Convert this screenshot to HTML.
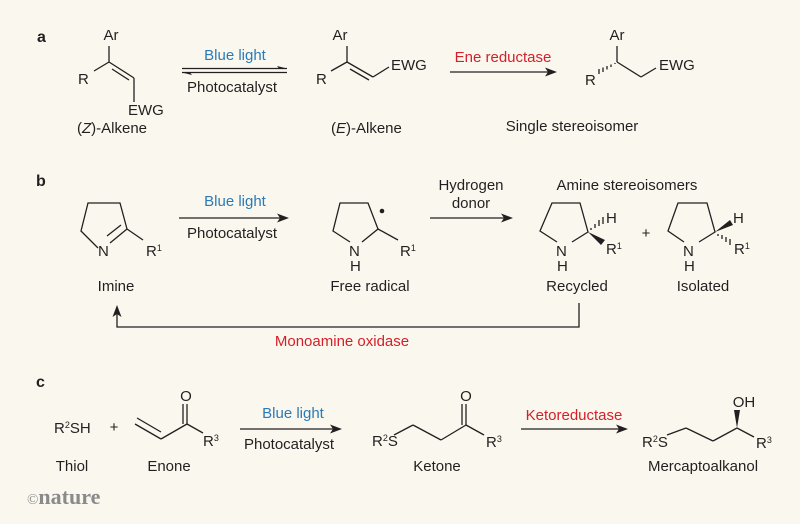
<!DOCTYPE html>
<html><head><meta charset="utf-8"><style>
html,body{margin:0;padding:0;background:#faf8ee}
svg{display:block}
text{font-family:"Liberation Sans",sans-serif;font-size:15px;fill:#231f20}
.b{fill:#2a7ab8}.r{fill:#d4202a}
.s{font-size:9px}
.p{font-weight:bold;font-size:16px;font-family:"Liberation Sans",sans-serif}
line,polyline,path.l{stroke:#231f20;stroke-width:1.3;fill:none}
</style></head><body>
<svg width="800" height="524" viewBox="0 0 800 524" xmlns="http://www.w3.org/2000/svg">
<rect width="800" height="524" fill="#faf8ee"/>
<!-- Panel a -->
<text x="37" y="42" class="p">a</text>
<text x="111" y="40" text-anchor="middle">Ar</text>
<line x1="109" y1="46" x2="109" y2="62"/>
<text x="78" y="84">R</text>
<line x1="109" y1="62" x2="94" y2="71"/>
<line x1="109" y1="62" x2="134" y2="78"/>
<line x1="112" y1="69" x2="129" y2="80"/>
<line x1="134" y1="78" x2="134" y2="102"/>
<text x="128" y="115">EWG</text>
<text x="77" y="133">(<tspan font-style="italic">Z</tspan>)-Alkene</text>
<line x1="182" y1="68.5" x2="287" y2="68.5"/>
<path d="M287 68.5 L277 66 L279 68.5Z" fill="#231f20"/>
<line x1="182" y1="72.5" x2="287" y2="72.5"/>
<path d="M182 72.5 L192 75 L190 72.5Z" fill="#231f20"/>
<text x="235" y="60" text-anchor="middle" class="b">Blue light</text>
<text x="232" y="92" text-anchor="middle">Photocatalyst</text>
<text x="340" y="40" text-anchor="middle">Ar</text>
<line x1="347" y1="46" x2="347" y2="62"/>
<text x="316" y="84">R</text>
<line x1="347" y1="62" x2="331" y2="71"/>
<line x1="347" y1="62" x2="373" y2="77"/>
<line x1="350" y1="69" x2="369" y2="80"/>
<line x1="373" y1="77" x2="389" y2="67"/>
<text x="391" y="70">EWG</text>
<text x="331" y="133">(<tspan font-style="italic">E</tspan>)-Alkene</text>
<line x1="450" y1="72" x2="555" y2="72"/>
<path d="M557 72 L545 67.5 L548 72 L545 76.5Z" fill="#231f20"/>
<text x="503" y="62" text-anchor="middle" class="r">Ene reductase</text>
<text x="617" y="40" text-anchor="middle">Ar</text>
<line x1="617" y1="46" x2="617" y2="62"/>
<path d="M615 63 v1 M611 64.5 v2.5 M607 66 v3.5 M603 67.5 v4.5 M599 69 v5" stroke="#231f20" stroke-width="1.3"/>
<text x="585" y="85">R</text>
<line x1="617" y1="62" x2="641" y2="77"/>
<line x1="641" y1="77" x2="656" y2="68"/>
<text x="659" y="70">EWG</text>
<text x="572" y="131" text-anchor="middle">Single stereoisomer</text>
<!-- Panel b -->
<text x="36" y="186" class="p">b</text>
<polyline points="98,248 81,231 88,203 120,203 127,229"/>
<line x1="127" y1="229" x2="110" y2="243"/>
<line x1="121" y1="225" x2="107" y2="236"/>
<line x1="127" y1="229" x2="143" y2="240"/>
<text x="98" y="256">N</text>
<text x="146" y="256">R<tspan class="s" dy="-5">1</tspan></text>
<text x="116" y="291" text-anchor="middle">Imine</text>
<line x1="179" y1="218" x2="286" y2="218"/>
<path d="M289 218 L277 213.5 L280 218 L277 222.5Z" fill="#231f20"/>
<text x="235" y="206" text-anchor="middle" class="b">Blue light</text>
<text x="232" y="238" text-anchor="middle">Photocatalyst</text>
<polyline points="350,242 333,231 340,203 368,203 378,229 362,242"/>
<line x1="378" y1="229" x2="398" y2="240"/>
<circle cx="382" cy="211" r="2.3" fill="#231f20"/>
<text x="349" y="256">N</text>
<text x="350" y="271">H</text>
<text x="400" y="256">R<tspan class="s" dy="-5">1</tspan></text>
<text x="370" y="291" text-anchor="middle">Free radical</text>
<line x1="430" y1="218" x2="510" y2="218"/>
<path d="M513 218 L501 213.5 L504 218 L501 222.5Z" fill="#231f20"/>
<text x="471" y="190" text-anchor="middle">Hydrogen</text>
<text x="471" y="208" text-anchor="middle">donor</text>
<text x="627" y="190" text-anchor="middle">Amine stereoisomers</text>
<polyline points="557,242 540,231 552,203 580,203 588,232 572,242"/>
<path d="M591 230 v-2 M595 228 v-4 M599 226 v-6 M603 224 v-7" stroke="#231f20" stroke-width="1.3"/>
<path d="M588 232 L605 240 L601 245Z" fill="#231f20"/>
<text x="606" y="223">H</text>
<text x="556" y="256">N</text>
<text x="557" y="271">H</text>
<text x="606" y="254">R<tspan class="s" dy="-5">1</tspan></text>
<text x="646" y="238" text-anchor="middle" font-size="16">+</text>
<polyline points="684,242 668,231 678,203 707,203 715,232 699,242"/>
<path d="M715 232 L730 220 L733 225Z" fill="#231f20"/>
<path d="M718 234 v2 M722 235 v4 M726 237 v5 M730 239 v6" stroke="#231f20" stroke-width="1.3"/>
<text x="733" y="223">H</text>
<text x="683" y="256">N</text>
<text x="684" y="271">H</text>
<text x="734" y="254">R<tspan class="s" dy="-5">1</tspan></text>
<text x="577" y="291" text-anchor="middle">Recycled</text>
<text x="703" y="291" text-anchor="middle">Isolated</text>
<polyline points="579,303 579,327 117,327 117,310"/>
<path d="M117 305 L112.5 317 L117 314 L121.5 317Z" fill="#231f20"/>
<text x="342" y="346" text-anchor="middle" class="r">Monoamine oxidase</text>
<!-- Panel c -->
<text x="36" y="387" class="p">c</text>
<text x="54" y="433">R<tspan class="s" dy="-5">2</tspan><tspan dy="5">SH</tspan></text>
<text x="114" y="432" text-anchor="middle" font-size="16">+</text>
<line x1="135" y1="424" x2="161" y2="439"/>
<line x1="137" y1="418" x2="161" y2="432"/>
<line x1="161" y1="439" x2="187" y2="424"/>
<line x1="187" y1="424" x2="187" y2="404"/>
<line x1="183" y1="424" x2="183" y2="404"/>
<text x="186" y="401" text-anchor="middle">O</text>
<line x1="187" y1="424" x2="203" y2="433"/>
<text x="203" y="446">R<tspan class="s" dy="-5">3</tspan></text>
<text x="72" y="471" text-anchor="middle">Thiol</text>
<text x="169" y="471" text-anchor="middle">Enone</text>
<line x1="240" y1="429" x2="339" y2="429"/>
<path d="M342 429 L330 424.5 L333 429 L330 433.5Z" fill="#231f20"/>
<text x="293" y="418" text-anchor="middle" class="b">Blue light</text>
<text x="289" y="449" text-anchor="middle">Photocatalyst</text>
<text x="372" y="446">R<tspan class="s" dy="-5">2</tspan><tspan dy="5">S</tspan></text>
<line x1="394" y1="435" x2="413" y2="425"/>
<line x1="413" y1="425" x2="441" y2="440"/>
<line x1="441" y1="440" x2="466" y2="425"/>
<line x1="466" y1="425" x2="466" y2="404"/>
<line x1="462" y1="425" x2="462" y2="404"/>
<text x="466" y="401" text-anchor="middle">O</text>
<line x1="466" y1="425" x2="484" y2="435"/>
<text x="486" y="447">R<tspan class="s" dy="-5">3</tspan></text>
<text x="437" y="471" text-anchor="middle">Ketone</text>
<line x1="521" y1="429" x2="625" y2="429"/>
<path d="M628 429 L616 424.5 L619 429 L616 433.5Z" fill="#231f20"/>
<text x="574" y="420" text-anchor="middle" class="r">Ketoreductase</text>
<text x="642" y="447">R<tspan class="s" dy="-5">2</tspan><tspan dy="5">S</tspan></text>
<line x1="667" y1="435" x2="686" y2="428"/>
<line x1="686" y1="428" x2="713" y2="441"/>
<line x1="713" y1="441" x2="737" y2="428"/>
<path d="M737 428 L734 410 L740 410Z" fill="#231f20"/>
<text x="744" y="407" text-anchor="middle">OH</text>
<line x1="737" y1="428" x2="754" y2="437"/>
<text x="756" y="448">R<tspan class="s" dy="-5">3</tspan></text>
<text x="703" y="471" text-anchor="middle">Mercaptoalkanol</text>
<text x="27" y="504" style="font-family:'Liberation Serif',serif;font-size:22px;fill:#8a8a8a;font-weight:bold"><tspan font-size="15" font-weight="normal">©</tspan>nature</text>
</svg>
</body></html>
